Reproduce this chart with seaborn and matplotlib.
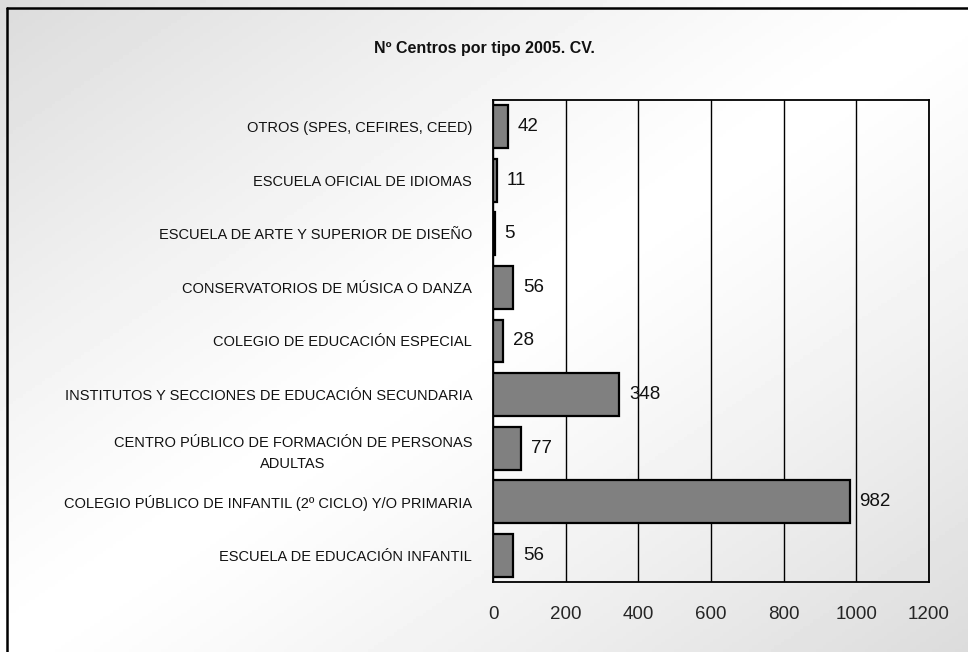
import numpy as np
import pandas as pd
import matplotlib
matplotlib.use("Agg")
import matplotlib.pyplot as plt
from matplotlib.lines import Line2D
import seaborn as sns

# --- datos (de arriba a abajo) ---
tipos = [
    "OTROS (SPES, CEFIRES, CEED)",
    "ESCUELA OFICIAL DE IDIOMAS",
    "ESCUELA DE ARTE Y SUPERIOR DE DISEÑO",
    "CONSERVATORIOS DE MÚSICA O DANZA",
    "COLEGIO DE EDUCACIÓN ESPECIAL",
    "INSTITUTOS Y SECCIONES DE EDUCACIÓN SECUNDARIA",
    "CENTRO PÚBLICO DE FORMACIÓN DE PERSONAS\nADULTAS",
    "COLEGIO PÚBLICO DE INFANTIL (2º CICLO) Y/O PRIMARIA",
    "ESCUELA DE EDUCACIÓN INFANTIL",
]
centros = [42, 11, 5, 56, 28, 348, 77, 982, 56]
x_ticks = [0, 200, 400, 600, 800, 1000, 1200]
titulo = "Nº Centros por tipo 2005. CV."

df = pd.DataFrame({"tipo": tipos, "centros": centros})

sns.set_theme(style="white")
plt.rcParams["font.family"] = ["Liberation Sans", "DejaVu Sans"]

fig = plt.figure(figsize=(9.68, 6.52), dpi=100)

# fondo degradado diagonal
bg = fig.add_axes([0, 0, 1, 1], zorder=-10)
h, w = 200, 300
yy, xx = np.mgrid[0:h, 0:w]
t = (xx / w + yy / h) / 2.0
shade = 1.0 - 0.14 * np.abs(2 * t - 1) ** 1.2
bg.imshow(shade, cmap="gray", vmin=0, vmax=1, aspect="auto", extent=[0, 1, 0, 1])
bg.set_axis_off()

# marco exterior (cortado por la derecha y abajo)
x0, y0 = 7 / 968, 1 - 8 / 652
fig.add_artist(Line2D([x0, x0], [-0.1, y0], transform=fig.transFigure, color="black", lw=1.8))
fig.add_artist(Line2D([x0, 1.1], [y0, y0], transform=fig.transFigure, color="black", lw=1.8))

ax = fig.add_axes([493 / 968, 1 - 582 / 652, (929 - 493) / 968, (582 - 100) / 652])
ax.patch.set_alpha(0)

sns.barplot(data=df, x="centros", y="tipo", orient="h", color="#808080",
            saturation=1, edgecolor="black", linewidth=1.6, width=0.8,
            ax=ax, zorder=3)
for p in ax.patches:
    p.set_facecolor("#808080")

ax.bar_label(ax.containers[0], labels=[str(v) for v in centros], padding=7,
             fontsize=13.5, color="#111111")

ax.set_xlim(0, 1200)
ax.set_xticks(x_ticks)
ax.set_xticklabels([str(v) for v in x_ticks], fontsize=13.5)
ax.set_xticks([0, 1200], minor=True)
ax.tick_params(axis="x", which="major", length=0, pad=17)
ax.tick_params(axis="x", which="minor", length=7, width=1.2, color="black", direction="out")
ax.set_ylim(len(tipos) - 0.5, -0.5)
ax.set_yticks(np.arange(-0.5, len(tipos)), minor=True)
ax.tick_params(axis="y", which="major", length=0, pad=15, labelsize=10.5)
ax.tick_params(axis="y", which="minor", length=6, width=1.2, color="black", direction="out")
for lab in ax.get_yticklabels():
    lab.set_multialignment("center")
    lab.set_linespacing(1.7)
    lab.set_color("#111111")

ax.grid(axis="x", color="black", lw=1, zorder=0)
ax.set_axisbelow(True)
for s in ax.spines.values():
    s.set_visible(True)
    s.set_color("black")
    s.set_linewidth(1.3)
ax.set_xlabel("")
ax.set_ylabel("")

fig.text(484 / 968, 1 - 49 / 652, titulo, ha="center", va="center",
         fontsize=11.5, fontweight="bold", color="#111111")

fig.savefig("out.png", dpi=100)
